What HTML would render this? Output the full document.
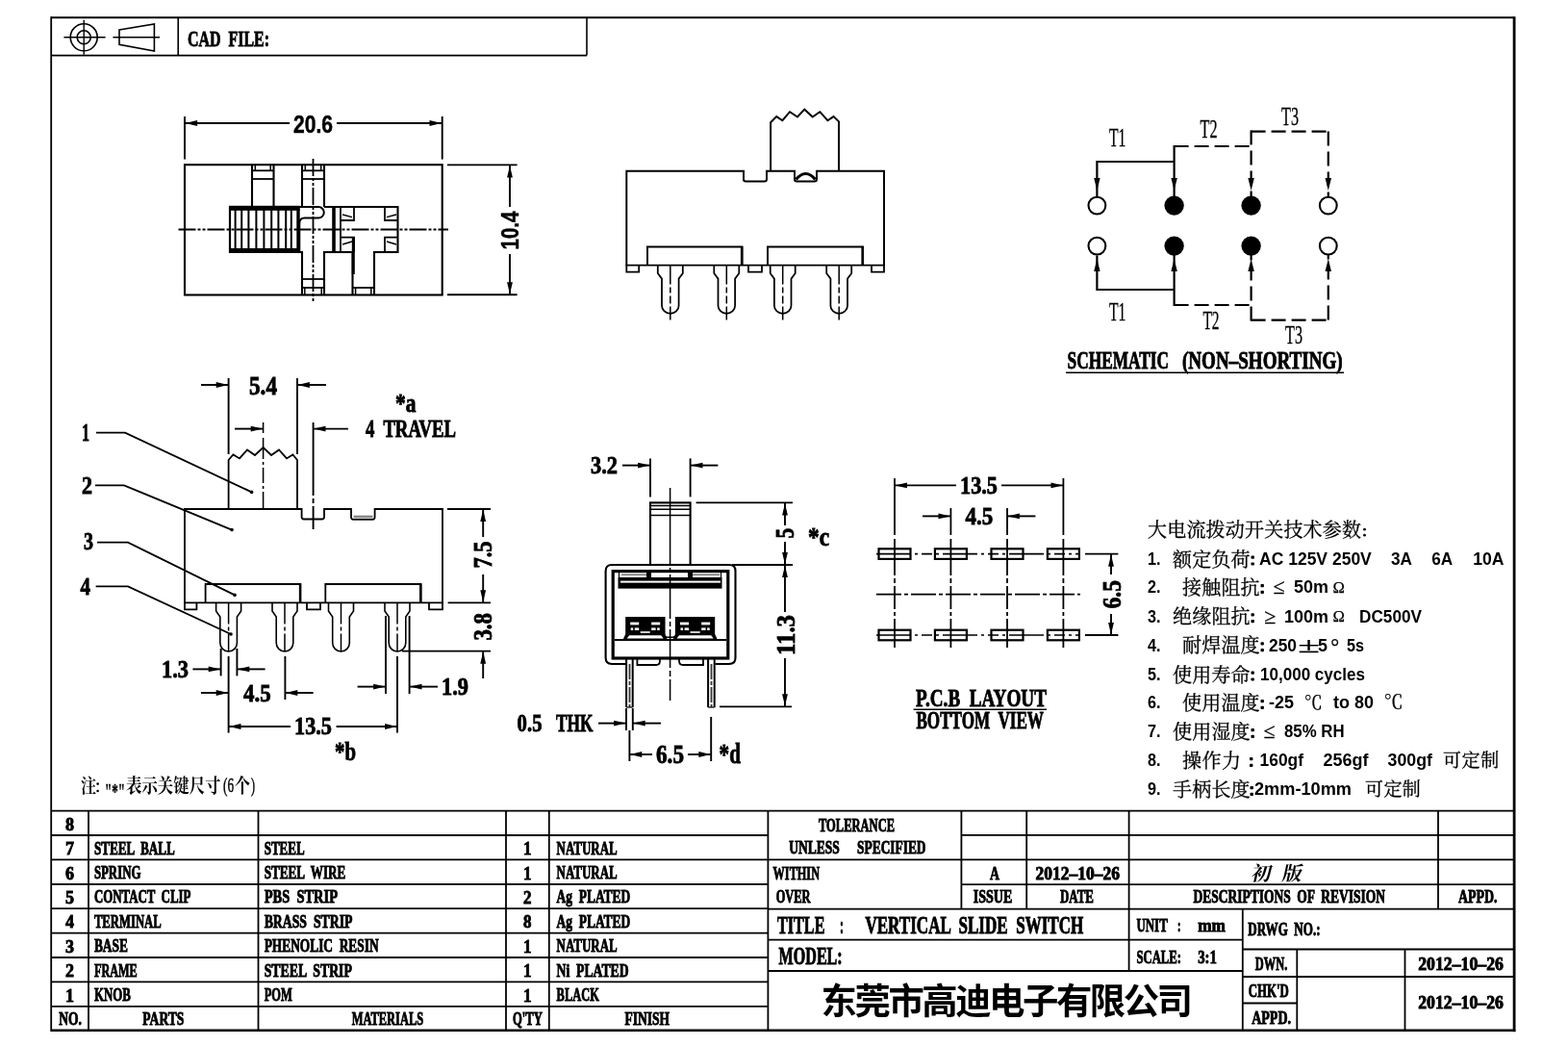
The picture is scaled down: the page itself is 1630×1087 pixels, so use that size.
<!DOCTYPE html>
<html><head><meta charset="utf-8"><title>Vertical Slide Switch Drawing</title>
<style>html,body{margin:0;padding:0;background:#fff;}body{width:1630px;height:1087px;overflow:hidden;font-family:"Liberation Serif",serif;}text{fill:#000;stroke:none;}use{fill:#000;stroke:none;}</style></head>
<body>
<svg width="1630" height="1087" viewBox="0 0 1630 1087" style="display:block;filter:blur(0.45px)">
<rect width="100%" height="100%" fill="#fff"/>
<g stroke="#000" fill="none" font-family="Liberation Serif, serif" font-weight="bold">
<g>
<line x1="53.2" y1="17.3" x2="53.2" y2="1071.9" stroke-width="1.8"/>
<line x1="53.2" y1="18.3" x2="1573.8" y2="18.3" stroke-width="2"/>
<line x1="1574.1" y1="17.3" x2="1574.1" y2="1072.2" stroke-width="2.8"/>
<line x1="53.2" y1="1070.7" x2="1575.3" y2="1070.7" stroke-width="2.4"/>
<line x1="53.2" y1="57.6" x2="610" y2="57.6" stroke-width="1.6"/>
<line x1="185.2" y1="18.3" x2="185.2" y2="57.6" stroke-width="1.6"/>
<line x1="610" y1="18.3" x2="610" y2="57.6" stroke-width="1.6"/>
<circle cx="87.2" cy="38.8" r="14" fill="none" stroke-width="1.6"/>
<circle cx="87.2" cy="38.8" r="7" fill="none" stroke-width="1.6"/>
<line x1="66.4" y1="38.8" x2="109.6" y2="38.8" stroke-width="1.4"/>
<line x1="87.2" y1="20.8" x2="87.2" y2="56.8" stroke-width="1.4"/>
<path d="M124 31 L160.4 25 L160.4 53 L124 46.4 Z" fill="none" stroke-width="1.6"/>
<line x1="117.4" y1="38.8" x2="166" y2="38.8" stroke-width="1.4"/>
<text x="195" y="47.6" font-size="23.82" textLength="85" lengthAdjust="spacingAndGlyphs" style="stroke:#000;stroke-width:0.85px" xml:space="preserve">CAD  FILE:</text>
<line x1="53.2" y1="842.6" x2="798.4" y2="842.6" stroke-width="1.8"/>
<line x1="53.2" y1="868" x2="798.4" y2="868" stroke-width="1.8"/>
<line x1="53.2" y1="893.4" x2="798.4" y2="893.4" stroke-width="1.8"/>
<line x1="53.2" y1="918.8" x2="798.4" y2="918.8" stroke-width="1.8"/>
<line x1="53.2" y1="944.2" x2="798.4" y2="944.2" stroke-width="1.8"/>
<line x1="53.2" y1="969.6" x2="798.4" y2="969.6" stroke-width="1.8"/>
<line x1="53.2" y1="995" x2="798.4" y2="995" stroke-width="1.8"/>
<line x1="53.2" y1="1020.4" x2="798.4" y2="1020.4" stroke-width="1.8"/>
<line x1="53.2" y1="1045.8" x2="798.4" y2="1045.8" stroke-width="1.8"/>
<line x1="92" y1="842.6" x2="92" y2="1070.7" stroke-width="1.8"/>
<line x1="268.5" y1="842.6" x2="268.5" y2="1070.7" stroke-width="1.8"/>
<line x1="526" y1="842.6" x2="526" y2="1070.7" stroke-width="1.8"/>
<line x1="570.8" y1="842.6" x2="570.8" y2="1070.7" stroke-width="1.8"/>
<line x1="798.4" y1="842.6" x2="798.4" y2="1070.7" stroke-width="1.8"/>
<line x1="798.4" y1="842.6" x2="1573.8" y2="842.6" stroke-width="1.8"/>
<line x1="999.4" y1="867.8" x2="1573.8" y2="867.8" stroke-width="1.8"/>
<line x1="798.4" y1="893.4" x2="1573.8" y2="893.4" stroke-width="1.8"/>
<line x1="999.4" y1="919.1" x2="1573.8" y2="919.1" stroke-width="1.8"/>
<line x1="798.4" y1="944.7" x2="1573.8" y2="944.7" stroke-width="1.8"/>
<line x1="798.4" y1="976.6" x2="1291.8" y2="976.6" stroke-width="1.8"/>
<line x1="798.4" y1="1009" x2="1291.8" y2="1009" stroke-width="1.8"/>
<line x1="1291.8" y1="986.5" x2="1573.8" y2="986.5" stroke-width="1.8"/>
<line x1="1291.8" y1="1015" x2="1573.8" y2="1015" stroke-width="1.8"/>
<line x1="1291.8" y1="1042.5" x2="1348.3" y2="1042.5" stroke-width="1.8"/>
<line x1="999.4" y1="842.6" x2="999.4" y2="944.7" stroke-width="1.8"/>
<line x1="1067.2" y1="842.6" x2="1067.2" y2="944.7" stroke-width="1.8"/>
<line x1="1173.6" y1="842.6" x2="1173.6" y2="1009" stroke-width="1.8"/>
<line x1="1495" y1="842.6" x2="1495" y2="944.7" stroke-width="1.8"/>
<line x1="1291.8" y1="944.7" x2="1291.8" y2="1070.7" stroke-width="1.8"/>
<line x1="1348.3" y1="986.5" x2="1348.3" y2="1070.7" stroke-width="1.8"/>
<line x1="1460.5" y1="986.5" x2="1460.5" y2="1070.7" stroke-width="1.8"/>
<text x="68" y="862.8" font-size="19.85" textLength="9" lengthAdjust="spacingAndGlyphs" style="stroke:#000;stroke-width:0.9px" xml:space="preserve">8</text>
<text x="68" y="888.2" font-size="19.85" textLength="9" lengthAdjust="spacingAndGlyphs" style="stroke:#000;stroke-width:0.9px" xml:space="preserve">7</text>
<text x="68" y="913.6" font-size="19.85" textLength="9" lengthAdjust="spacingAndGlyphs" style="stroke:#000;stroke-width:0.9px" xml:space="preserve">6</text>
<text x="68" y="939" font-size="19.85" textLength="9" lengthAdjust="spacingAndGlyphs" style="stroke:#000;stroke-width:0.9px" xml:space="preserve">5</text>
<text x="68" y="964.4" font-size="19.85" textLength="9" lengthAdjust="spacingAndGlyphs" style="stroke:#000;stroke-width:0.9px" xml:space="preserve">4</text>
<text x="68" y="989.8" font-size="19.85" textLength="9" lengthAdjust="spacingAndGlyphs" style="stroke:#000;stroke-width:0.9px" xml:space="preserve">3</text>
<text x="68" y="1015.2" font-size="19.85" textLength="9" lengthAdjust="spacingAndGlyphs" style="stroke:#000;stroke-width:0.9px" xml:space="preserve">2</text>
<text x="68" y="1040.6" font-size="19.85" textLength="9" lengthAdjust="spacingAndGlyphs" style="stroke:#000;stroke-width:0.9px" xml:space="preserve">1</text>
<text x="97.9" y="887.6" font-size="18.78" textLength="83.9" lengthAdjust="spacingAndGlyphs" style="stroke:#000;stroke-width:0.9px" xml:space="preserve">STEEL  BALL</text>
<text x="274.7" y="887.6" font-size="18.78" textLength="42" lengthAdjust="spacingAndGlyphs" style="stroke:#000;stroke-width:0.9px" xml:space="preserve">STEEL</text>
<text x="544" y="888.2" font-size="19.85" textLength="8.5" lengthAdjust="spacingAndGlyphs" style="stroke:#000;stroke-width:0.9px" xml:space="preserve">1</text>
<text x="578.6" y="887.6" font-size="18.78" textLength="63.1" lengthAdjust="spacingAndGlyphs" style="stroke:#000;stroke-width:0.9px" xml:space="preserve">NATURAL</text>
<text x="97.9" y="913" font-size="18.78" textLength="48.5" lengthAdjust="spacingAndGlyphs" style="stroke:#000;stroke-width:0.9px" xml:space="preserve">SPRING</text>
<text x="274.7" y="913" font-size="18.78" textLength="84.6" lengthAdjust="spacingAndGlyphs" style="stroke:#000;stroke-width:0.9px" xml:space="preserve">STEEL  WIRE</text>
<text x="544" y="913.6" font-size="19.85" textLength="8.5" lengthAdjust="spacingAndGlyphs" style="stroke:#000;stroke-width:0.9px" xml:space="preserve">1</text>
<text x="578.6" y="913" font-size="18.78" textLength="63.1" lengthAdjust="spacingAndGlyphs" style="stroke:#000;stroke-width:0.9px" xml:space="preserve">NATURAL</text>
<text x="97.9" y="938.4" font-size="18.78" textLength="100.5" lengthAdjust="spacingAndGlyphs" style="stroke:#000;stroke-width:0.9px" xml:space="preserve">CONTACT  CLIP</text>
<text x="274.7" y="938.4" font-size="18.78" textLength="76.3" lengthAdjust="spacingAndGlyphs" style="stroke:#000;stroke-width:0.9px" xml:space="preserve">PBS  STRIP</text>
<text x="544" y="939" font-size="19.85" textLength="8.5" lengthAdjust="spacingAndGlyphs" style="stroke:#000;stroke-width:0.9px" xml:space="preserve">2</text>
<text x="578.6" y="938.4" font-size="18.78" textLength="76.6" lengthAdjust="spacingAndGlyphs" style="stroke:#000;stroke-width:0.9px" xml:space="preserve">Ag  PLATED</text>
<text x="97.9" y="963.8" font-size="18.78" textLength="69.8" lengthAdjust="spacingAndGlyphs" style="stroke:#000;stroke-width:0.9px" xml:space="preserve">TERMINAL</text>
<text x="274.7" y="963.8" font-size="18.78" textLength="91.7" lengthAdjust="spacingAndGlyphs" style="stroke:#000;stroke-width:0.9px" xml:space="preserve">BRASS  STRIP</text>
<text x="544" y="964.4" font-size="19.85" textLength="8.5" lengthAdjust="spacingAndGlyphs" style="stroke:#000;stroke-width:0.9px" xml:space="preserve">8</text>
<text x="578.6" y="963.8" font-size="18.78" textLength="76.6" lengthAdjust="spacingAndGlyphs" style="stroke:#000;stroke-width:0.9px" xml:space="preserve">Ag  PLATED</text>
<text x="97.9" y="989.2" font-size="18.78" textLength="35" lengthAdjust="spacingAndGlyphs" style="stroke:#000;stroke-width:0.9px" xml:space="preserve">BASE</text>
<text x="274.7" y="989.2" font-size="18.78" textLength="118.9" lengthAdjust="spacingAndGlyphs" style="stroke:#000;stroke-width:0.9px" xml:space="preserve">PHENOLIC  RESIN</text>
<text x="544" y="989.8" font-size="19.85" textLength="8.5" lengthAdjust="spacingAndGlyphs" style="stroke:#000;stroke-width:0.9px" xml:space="preserve">1</text>
<text x="578.6" y="989.2" font-size="18.78" textLength="63.1" lengthAdjust="spacingAndGlyphs" style="stroke:#000;stroke-width:0.9px" xml:space="preserve">NATURAL</text>
<text x="97.9" y="1014.6" font-size="18.78" textLength="44.9" lengthAdjust="spacingAndGlyphs" style="stroke:#000;stroke-width:0.9px" xml:space="preserve">FRAME</text>
<text x="274.7" y="1014.6" font-size="18.78" textLength="91.2" lengthAdjust="spacingAndGlyphs" style="stroke:#000;stroke-width:0.9px" xml:space="preserve">STEEL  STRIP</text>
<text x="544" y="1015.2" font-size="19.85" textLength="8.5" lengthAdjust="spacingAndGlyphs" style="stroke:#000;stroke-width:0.9px" xml:space="preserve">1</text>
<text x="578.6" y="1014.6" font-size="18.78" textLength="75" lengthAdjust="spacingAndGlyphs" style="stroke:#000;stroke-width:0.9px" xml:space="preserve">Ni  PLATED</text>
<text x="97.9" y="1040" font-size="18.78" textLength="37.8" lengthAdjust="spacingAndGlyphs" style="stroke:#000;stroke-width:0.9px" xml:space="preserve">KNOB</text>
<text x="274.7" y="1040" font-size="18.78" textLength="29" lengthAdjust="spacingAndGlyphs" style="stroke:#000;stroke-width:0.9px" xml:space="preserve">POM</text>
<text x="544" y="1040.6" font-size="19.85" textLength="8.5" lengthAdjust="spacingAndGlyphs" style="stroke:#000;stroke-width:0.9px" xml:space="preserve">1</text>
<text x="578.6" y="1040" font-size="18.78" textLength="44.2" lengthAdjust="spacingAndGlyphs" style="stroke:#000;stroke-width:0.9px" xml:space="preserve">BLACK</text>
<text x="61.3" y="1064.8" font-size="18.78" textLength="23.7" lengthAdjust="spacingAndGlyphs" style="stroke:#000;stroke-width:0.9px" xml:space="preserve">NO.</text>
<text x="148.3" y="1064.8" font-size="18.78" textLength="43" lengthAdjust="spacingAndGlyphs" style="stroke:#000;stroke-width:0.9px" xml:space="preserve">PARTS</text>
<text x="365.7" y="1064.8" font-size="18.78" textLength="74.4" lengthAdjust="spacingAndGlyphs" style="stroke:#000;stroke-width:0.9px" xml:space="preserve">MATERIALS</text>
<text x="533" y="1064.8" font-size="18.78" textLength="30.8" lengthAdjust="spacingAndGlyphs" style="stroke:#000;stroke-width:0.9px" xml:space="preserve">Q'TY</text>
<text x="649.5" y="1064.8" font-size="18.78" textLength="46.6" lengthAdjust="spacingAndGlyphs" style="stroke:#000;stroke-width:0.9px" xml:space="preserve">FINISH</text>
<text x="851" y="863.6" font-size="18.78" textLength="79" lengthAdjust="spacingAndGlyphs" style="stroke:#000;stroke-width:0.9px" xml:space="preserve">TOLERANCE</text>
<text x="820.2" y="887.4" font-size="18.78" textLength="52.5" lengthAdjust="spacingAndGlyphs" style="stroke:#000;stroke-width:0.9px" xml:space="preserve">UNLESS</text>
<text x="891.1" y="887.4" font-size="18.78" textLength="71.4" lengthAdjust="spacingAndGlyphs" style="stroke:#000;stroke-width:0.9px" xml:space="preserve">SPECIFIED</text>
<text x="803.6" y="914" font-size="18.78" textLength="48.4" lengthAdjust="spacingAndGlyphs" style="stroke:#000;stroke-width:0.9px" xml:space="preserve">WITHIN</text>
<text x="806.7" y="937.6" font-size="18.78" textLength="35.9" lengthAdjust="spacingAndGlyphs" style="stroke:#000;stroke-width:0.9px" xml:space="preserve">OVER</text>
<text x="1029" y="914" font-size="18.78" textLength="10" lengthAdjust="spacingAndGlyphs" style="stroke:#000;stroke-width:0.9px" xml:space="preserve">A</text>
<text x="1011.7" y="937.6" font-size="18.78" textLength="40.6" lengthAdjust="spacingAndGlyphs" style="stroke:#000;stroke-width:0.9px" xml:space="preserve">ISSUE</text>
<text x="1076.6" y="914" font-size="18.78" textLength="87.5" lengthAdjust="spacingAndGlyphs" style="stroke:#000;stroke-width:0.9px" xml:space="preserve">2012–10–26</text>
<text x="1102" y="937.6" font-size="18.78" textLength="35" lengthAdjust="spacingAndGlyphs" style="stroke:#000;stroke-width:0.9px" xml:space="preserve">DATE</text>
<text x="1240.5" y="937.6" font-size="18.78" textLength="199.5" lengthAdjust="spacingAndGlyphs" style="stroke:#000;stroke-width:0.9px" xml:space="preserve">DESCRIPTIONS  OF  REVISION</text>
<text x="1516" y="937.6" font-size="18.78" textLength="40.5" lengthAdjust="spacingAndGlyphs" style="stroke:#000;stroke-width:0.9px" xml:space="preserve">APPD.</text>
<text x="807.9" y="969.5" font-size="25.19" textLength="49.6" lengthAdjust="spacingAndGlyphs" style="stroke:#000;stroke-width:0.9px" xml:space="preserve">TITLE</text>
<text x="873" y="969.5" font-size="25.19" textLength="4" lengthAdjust="spacingAndGlyphs" style="stroke:#000;stroke-width:0.9px" xml:space="preserve">:</text>
<text x="899.4" y="969.5" font-size="25.19" textLength="226.9" lengthAdjust="spacingAndGlyphs" style="stroke:#000;stroke-width:0.9px" xml:space="preserve">VERTICAL  SLIDE  SWITCH</text>
<text x="809.6" y="1001.9" font-size="25.19" textLength="66.1" lengthAdjust="spacingAndGlyphs" style="stroke:#000;stroke-width:0.9px" xml:space="preserve">MODEL:</text>
<text x="1181.4" y="968.3" font-size="19.85" textLength="32.4" lengthAdjust="spacingAndGlyphs" style="stroke:#000;stroke-width:0.9px" xml:space="preserve">UNIT</text>
<text x="1224" y="968.3" font-size="19.85" textLength="3.5" lengthAdjust="spacingAndGlyphs" style="stroke:#000;stroke-width:0.9px" xml:space="preserve">:</text>
<text x="1245.2" y="968.3" font-size="19.85" textLength="28.8" lengthAdjust="spacingAndGlyphs" style="stroke:#000;stroke-width:0.9px" xml:space="preserve">mm</text>
<text x="1181.4" y="1001.4" font-size="19.85" textLength="46.6" lengthAdjust="spacingAndGlyphs" style="stroke:#000;stroke-width:0.9px" xml:space="preserve">SCALE:</text>
<text x="1245.2" y="1001.4" font-size="19.85" textLength="19.8" lengthAdjust="spacingAndGlyphs" style="stroke:#000;stroke-width:0.9px" xml:space="preserve">3:1</text>
<text x="1297.2" y="971.8" font-size="18.78" textLength="75.4" lengthAdjust="spacingAndGlyphs" style="stroke:#000;stroke-width:0.9px" xml:space="preserve">DRWG  NO.:</text>
<text x="1304.8" y="1007.8" font-size="18.78" textLength="33.5" lengthAdjust="spacingAndGlyphs" style="stroke:#000;stroke-width:0.9px" xml:space="preserve">DWN.</text>
<text x="1297.7" y="1035.7" font-size="18.78" textLength="42.1" lengthAdjust="spacingAndGlyphs" style="stroke:#000;stroke-width:0.9px" xml:space="preserve">CHK'D</text>
<text x="1301.2" y="1064" font-size="18.78" textLength="40.8" lengthAdjust="spacingAndGlyphs" style="stroke:#000;stroke-width:0.9px" xml:space="preserve">APPD.</text>
<text x="1474.2" y="1007.8" font-size="18.78" textLength="88.7" lengthAdjust="spacingAndGlyphs" style="stroke:#000;stroke-width:0.9px" xml:space="preserve">2012–10–26</text>
<text x="1474.2" y="1048" font-size="18.78" textLength="88.7" lengthAdjust="spacingAndGlyphs" style="stroke:#000;stroke-width:0.9px" xml:space="preserve">2012–10–26</text>
<text x="853.6" y="1053.5" font-size="37.4" font-weight="bold" font-family="Liberation Sans, Noto Sans CJK SC, sans-serif" textLength="386.4" lengthAdjust="spacing">东莞市高迪电子有限公司</text>
<text x="0" y="0" transform="translate(1300 915.29) skewX(-12)" font-size="20.5" font-weight="bold" font-family="Liberation Serif, Noto Serif CJK SC, serif">初</text>
<text x="0" y="0" transform="translate(1332 915.29) skewX(-12)" font-size="20.5" font-weight="bold" font-family="Liberation Serif, Noto Serif CJK SC, serif">版</text>
<rect x="192" y="171.2" width="267.7" height="135.3" fill="none" stroke-width="2.1"/>
<line x1="262" y1="171.2" x2="262" y2="215" stroke-width="2.1"/>
<line x1="284.5" y1="171.2" x2="284.5" y2="215" stroke-width="2.1"/>
<line x1="265.3" y1="171.2" x2="265.3" y2="177.3" stroke-width="1.5"/>
<line x1="281.2" y1="171.2" x2="281.2" y2="177.3" stroke-width="1.5"/>
<line x1="262" y1="177.3" x2="284.5" y2="177.3" stroke-width="1.8"/>
<line x1="262" y1="186" x2="284.5" y2="186" stroke-width="1.8"/>
<line x1="314" y1="171.2" x2="314" y2="215" stroke-width="2.1"/>
<line x1="337" y1="171.2" x2="337" y2="215" stroke-width="2.1"/>
<line x1="317.3" y1="171.2" x2="317.3" y2="177.3" stroke-width="1.5"/>
<line x1="333.7" y1="171.2" x2="333.7" y2="177.3" stroke-width="1.5"/>
<line x1="314" y1="177.3" x2="337" y2="177.3" stroke-width="1.8"/>
<line x1="314" y1="186" x2="337" y2="186" stroke-width="1.8"/>
<rect x="238" y="213.8" width="73.5" height="5" fill="#000" stroke="none"/>
<rect x="238" y="258" width="73.5" height="5" fill="#000" stroke="none"/>
<line x1="239" y1="214" x2="239" y2="263" stroke-width="2.2"/>
<line x1="310" y1="214" x2="310" y2="263" stroke-width="3.4"/>
<line x1="244.6" y1="217" x2="244.6" y2="260" stroke-width="2"/>
<line x1="251.2" y1="217" x2="251.2" y2="260" stroke-width="2"/>
<line x1="258.4" y1="217" x2="258.4" y2="260" stroke-width="2"/>
<line x1="266.4" y1="217" x2="266.4" y2="260" stroke-width="2"/>
<line x1="274.4" y1="217" x2="274.4" y2="260" stroke-width="2"/>
<line x1="282.2" y1="217" x2="282.2" y2="260" stroke-width="2"/>
<line x1="289.4" y1="217" x2="289.4" y2="260" stroke-width="2"/>
<line x1="297.2" y1="217" x2="297.2" y2="260" stroke-width="2"/>
<line x1="302.8" y1="217" x2="302.8" y2="260" stroke-width="2"/>
<path d="M310 215 L331 215 A5.8 5.8 0 0 1 331 226.6 L316.5 226.6 Q311.3 226.6 311.3 232.5 L311.3 262" fill="none" stroke-width="2"/>
<line x1="337" y1="215" x2="413.5" y2="215" stroke-width="2.1"/>
<line x1="413.5" y1="214" x2="413.5" y2="263" stroke-width="2.1"/>
<line x1="347" y1="215" x2="347" y2="262" stroke-width="3.6"/>
<line x1="354" y1="215" x2="354" y2="262" stroke-width="1.8"/>
<path d="M354 229 L368 229" fill="none" stroke-width="1.8"/>
<path d="M400 229 L400 229" fill="none" stroke-width="1.8"/>
<path d="M354 229 L368 229 L368 215" fill="none" stroke-width="1.8"/>
<path d="M413.5 229 L400 229 L400 215" fill="none" stroke-width="1.8"/>
<path d="M354 246.7 L368 246.7 L368 262" fill="none" stroke-width="1.8"/>
<path d="M413.5 246.7 L400 246.7 L400 262" fill="none" stroke-width="1.8"/>
<line x1="356" y1="223" x2="366" y2="225.6" stroke-width="1.4"/>
<line x1="402" y1="225.6" x2="412" y2="223" stroke-width="1.4"/>
<line x1="356" y1="254" x2="366" y2="251" stroke-width="1.4"/>
<line x1="402" y1="251" x2="412" y2="254" stroke-width="1.4"/>
<line x1="310" y1="262" x2="314" y2="262" stroke-width="2.1"/>
<line x1="337" y1="262" x2="366" y2="262" stroke-width="2.1"/>
<line x1="389" y1="262" x2="413.5" y2="262" stroke-width="2.1"/>
<line x1="314" y1="261" x2="314" y2="306.5" stroke-width="2.1"/>
<line x1="337" y1="261" x2="337" y2="306.5" stroke-width="2.1"/>
<line x1="314" y1="290" x2="337" y2="290" stroke-width="1.8"/>
<line x1="314" y1="299" x2="337" y2="299" stroke-width="1.8"/>
<line x1="316.8" y1="299" x2="316.8" y2="306.5" stroke-width="1.5"/>
<line x1="334.2" y1="299" x2="334.2" y2="306.5" stroke-width="1.5"/>
<line x1="366.5" y1="262" x2="366.5" y2="306.5" stroke-width="2.1"/>
<line x1="389" y1="261" x2="389" y2="306.5" stroke-width="2.1"/>
<line x1="367.3" y1="247" x2="367.3" y2="285" stroke-width="3"/>
<line x1="366.5" y1="299" x2="389" y2="299" stroke-width="1.8"/>
<line x1="369.6" y1="299" x2="369.6" y2="306.5" stroke-width="1.5"/>
<line x1="385.8" y1="299" x2="385.8" y2="306.5" stroke-width="1.5"/>
<line x1="185.5" y1="238.5" x2="466" y2="238.5" stroke-width="1.8" stroke-dasharray="18 2 3 2 3 2"/>
<line x1="325.5" y1="165" x2="325.5" y2="315" stroke-width="1.8" stroke-dasharray="18 2 3 2 3 2"/>
<line x1="192" y1="121" x2="192" y2="165.6" stroke-width="1.9"/>
<line x1="459.7" y1="121" x2="459.7" y2="165.6" stroke-width="1.9"/>
<line x1="192" y1="128" x2="301" y2="128" stroke-width="1.9"/>
<line x1="350" y1="128" x2="459.7" y2="128" stroke-width="1.9"/>
<path d="M192.6 128 L205.1 125.1 L205.1 130.9 Z" fill="#000" stroke="none"/>
<path d="M459 128 L446.5 125.1 L446.5 130.9 Z" fill="#000" stroke="none"/>
<text x="305" y="137.6" font-size="25.58" font-family="Liberation Sans, sans-serif" textLength="41" lengthAdjust="spacingAndGlyphs" style="stroke:#000;stroke-width:0.5px" xml:space="preserve">20.6</text>
<line x1="465" y1="171.4" x2="537.6" y2="171.4" stroke-width="1.9"/>
<line x1="465" y1="306.3" x2="537.6" y2="306.3" stroke-width="1.9"/>
<line x1="530" y1="171.4" x2="530" y2="215" stroke-width="1.9"/>
<line x1="530" y1="264" x2="530" y2="306.3" stroke-width="1.9"/>
<path d="M530 172 L527.1 184.5 L532.9 184.5 Z" fill="#000" stroke="none"/>
<path d="M530 305.8 L527.1 293.3 L532.9 293.3 Z" fill="#000" stroke="none"/>
<text x="539" y="259.5" font-size="26.16" font-family="Liberation Sans, sans-serif" textLength="40" lengthAdjust="spacingAndGlyphs" transform="rotate(-90 539 259.5)" style="stroke:#000;stroke-width:0.5px" xml:space="preserve">10.4</text>
<path d="M651.3 275.6 L651.3 177.8 L773 177.8 L773 186.2 Q773 188.4 775.2 188.4 L794.8 188.4 Q797 188.4 797 186.2 L797 177.8 L826 177.8 L826 186.2 Q826 188.4 828.2 188.4 L846.8 188.4 Q849 188.4 849 186.2 L849 177.8 L919 177.8 L919 275.6 Z" fill="none" stroke-width="1.95"/>
<path d="M827.5 186.5 Q837.5 174.5 847.5 186.5" fill="none" stroke-width="3.2"/>
<path d="M801.1 177.8 L801.1 127.2 L807.2 121.1 L813.4 125.2 L821 116.2 L829 121.5 L836.3 113.7 L844.7 121.5 L852.3 116.2 L860.4 125.2 L866.5 121.1 L872 126.4 L872 177.8" fill="none" stroke-width="1.95"/>
<path d="M651.3 275.6 L651.3 282.6 L664.2 282.6 L664.2 275.6" fill="none" stroke-width="1.8"/>
<path d="M778 275.6 L778 282.6 L792 282.6 L792 275.6" fill="none" stroke-width="1.8"/>
<path d="M906 275.6 L906 282.6 L919 282.6 L919 275.6" fill="none" stroke-width="1.8"/>
<path d="M673 275.6 L673 256.4 L771.5 256.4 L771.5 275.6" fill="none" stroke-width="1.95"/>
<line x1="771.1" y1="256.4" x2="771.1" y2="275.6" stroke-width="2.45"/>
<path d="M798 275.6 L798 256.4 L897 256.4 L897 275.6" fill="none" stroke-width="1.95"/>
<line x1="896.6" y1="256.4" x2="896.6" y2="275.6" stroke-width="2.45"/>
<path d="M683.8 275.6 L683.8 284 L688 289.6 L688 317.8 A8.8 8 0 0 0 705.6 317.8 L705.6 289.6 L709.8 284 L709.8 275.6" fill="none" stroke-width="1.75"/>
<line x1="696.8" y1="275.6" x2="696.8" y2="332.6" stroke-width="1.5" stroke-dasharray="20 3 6 3 8 3 40"/>
<path d="M742.3 275.6 L742.3 284 L746.5 289.6 L746.5 317.8 A8.8 8 0 0 0 764.1 317.8 L764.1 289.6 L768.3 284 L768.3 275.6" fill="none" stroke-width="1.75"/>
<line x1="755.3" y1="275.6" x2="755.3" y2="332.6" stroke-width="1.5" stroke-dasharray="20 3 6 3 8 3 40"/>
<path d="M800.7 275.6 L800.7 284 L804.9 289.6 L804.9 317.8 A8.8 8 0 0 0 822.5 317.8 L822.5 289.6 L826.7 284 L826.7 275.6" fill="none" stroke-width="1.75"/>
<line x1="813.7" y1="275.6" x2="813.7" y2="332.6" stroke-width="1.5" stroke-dasharray="20 3 6 3 8 3 40"/>
<path d="M859.2 275.6 L859.2 284 L863.4 289.6 L863.4 317.8 A8.8 8 0 0 0 881 317.8 L881 289.6 L885.2 284 L885.2 275.6" fill="none" stroke-width="1.75"/>
<line x1="872.2" y1="275.6" x2="872.2" y2="332.6" stroke-width="1.5" stroke-dasharray="20 3 6 3 8 3 40"/>
<circle cx="1140.4" cy="213.6" r="8.9" fill="none" stroke-width="2.1"/>
<circle cx="1140.4" cy="255.6" r="8.9" fill="none" stroke-width="2.1"/>
<circle cx="1220.6" cy="213.6" r="10.2" fill="#000" stroke="none"/>
<circle cx="1220.6" cy="255.6" r="10.2" fill="#000" stroke="none"/>
<circle cx="1300.6" cy="213.6" r="10.2" fill="#000" stroke="none"/>
<circle cx="1300.6" cy="255.6" r="10.2" fill="#000" stroke="none"/>
<circle cx="1380.8" cy="213.6" r="8.9" fill="none" stroke-width="2.1"/>
<circle cx="1380.8" cy="255.6" r="8.9" fill="none" stroke-width="2.1"/>
<path d="M1140.4 204 L1140.4 168 L1220.6 168" fill="none" stroke-width="2.2"/>
<line x1="1220.6" y1="151" x2="1220.6" y2="204" stroke-width="2.2"/>
<path d="M1140.4 265.5 L1140.4 301 L1220.6 301" fill="none" stroke-width="2.2"/>
<line x1="1220.6" y1="265" x2="1220.6" y2="318" stroke-width="2.2"/>
<line x1="1220.6" y1="152" x2="1301.6" y2="152" stroke-width="2.2" stroke-dasharray="15 6"/>
<line x1="1300.6" y1="135.6" x2="1300.6" y2="204" stroke-width="2.2" stroke-dasharray="15 6"/>
<line x1="1300.6" y1="136.6" x2="1381.8" y2="136.6" stroke-width="2.2" stroke-dasharray="15 6"/>
<line x1="1380.8" y1="136.6" x2="1380.8" y2="204" stroke-width="2.2" stroke-dasharray="15 6"/>
<line x1="1220.6" y1="317" x2="1301.6" y2="317" stroke-width="2.2" stroke-dasharray="15 6"/>
<line x1="1300.6" y1="333.6" x2="1300.6" y2="265" stroke-width="2.2" stroke-dasharray="15 6"/>
<line x1="1300.6" y1="332.6" x2="1381.8" y2="332.6" stroke-width="2.2" stroke-dasharray="15 6"/>
<line x1="1380.8" y1="332.6" x2="1380.8" y2="265" stroke-width="2.2" stroke-dasharray="15 6"/>
<path d="M1140.4 198 L1137.2 185 L1143.6 185 Z" fill="#000" stroke="none"/>
<path d="M1140.4 269 L1137.2 282 L1143.6 282 Z" fill="#000" stroke="none"/>
<path d="M1220.6 198 L1217.4 185 L1223.8 185 Z" fill="#000" stroke="none"/>
<path d="M1220.6 269 L1217.4 282 L1223.8 282 Z" fill="#000" stroke="none"/>
<path d="M1300.6 198 L1297.4 185 L1303.8 185 Z" fill="#000" stroke="none"/>
<path d="M1300.6 269 L1297.4 282 L1303.8 282 Z" fill="#000" stroke="none"/>
<path d="M1380.8 198 L1377.6 185 L1384 185 Z" fill="#000" stroke="none"/>
<path d="M1380.8 269 L1377.6 282 L1384 282 Z" fill="#000" stroke="none"/>
<text x="1153" y="151.6" font-size="26.87" font-weight="normal" textLength="17.4" lengthAdjust="spacingAndGlyphs" style="stroke:#000;stroke-width:0.3px" xml:space="preserve">T1</text>
<text x="1247.6" y="142.6" font-size="26.87" font-weight="normal" textLength="18" lengthAdjust="spacingAndGlyphs" style="stroke:#000;stroke-width:0.3px" xml:space="preserve">T2</text>
<text x="1332" y="130" font-size="26.87" font-weight="normal" textLength="18" lengthAdjust="spacingAndGlyphs" style="stroke:#000;stroke-width:0.3px" xml:space="preserve">T3</text>
<text x="1153" y="332.6" font-size="26.87" font-weight="normal" textLength="17.4" lengthAdjust="spacingAndGlyphs" style="stroke:#000;stroke-width:0.3px" xml:space="preserve">T1</text>
<text x="1250.4" y="342.4" font-size="26.87" font-weight="normal" textLength="17.2" lengthAdjust="spacingAndGlyphs" style="stroke:#000;stroke-width:0.3px" xml:space="preserve">T2</text>
<text x="1336" y="357" font-size="26.87" font-weight="normal" textLength="18" lengthAdjust="spacingAndGlyphs" style="stroke:#000;stroke-width:0.3px" xml:space="preserve">T3</text>
<text x="1109.6" y="383" font-size="24.43" textLength="105.4" lengthAdjust="spacingAndGlyphs" style="stroke:#000;stroke-width:0.85px" xml:space="preserve">SCHEMATIC</text>
<text x="1229" y="383" font-size="24.43" textLength="166.6" lengthAdjust="spacingAndGlyphs" style="stroke:#000;stroke-width:0.85px" xml:space="preserve">(NON–SHORTING)</text>
<line x1="1108" y1="387.2" x2="1397" y2="387.2" stroke-width="1.6"/>
<path d="M192 626.4 L192 529 L313.6 529 L313.6 537.3 Q313.6 539.5 315.8 539.5 L334.8 539.5 Q337 539.5 337 537.3 L337 529 L365 529 L365 537.6 Q365 539.8 367.2 539.8 L387.4 539.8 Q389.6 539.8 389.6 537.6 L389.6 529 L460 529 L460 626.4 Z" fill="none" stroke-width="1.8"/>
<rect x="367.5" y="535.6" width="20" height="2.8" fill="#888" stroke="none"/>
<path d="M237.6 529 L237.6 478 L242.4 472.4 L249 476.4 L257 467.4 L265 473 L273.6 465 L282 473 L290 467.4 L298 476.4 L304.4 472.4 L309 478 L309 529" fill="none" stroke-width="1.8"/>
<path d="M192 626.4 L192 633.4 L204.4 633.4 L204.4 626.4" fill="none" stroke-width="1.8"/>
<path d="M319 626.4 L319 633.4 L333 633.4 L333 626.4" fill="none" stroke-width="1.8"/>
<path d="M446 626.4 L446 633.4 L460 633.4 L460 626.4" fill="none" stroke-width="1.8"/>
<path d="M213.6 626.4 L213.6 607 L312.4 607 L312.4 626.4" fill="none" stroke-width="1.8"/>
<line x1="312" y1="607" x2="312" y2="626.4" stroke-width="2.3"/>
<path d="M338.3 626.4 L338.3 607 L437.6 607 L437.6 626.4" fill="none" stroke-width="1.8"/>
<line x1="437.2" y1="607" x2="437.2" y2="626.4" stroke-width="2.3"/>
<path d="M224.6 626.4 L224.6 635 L228.8 641 L228.8 668 A8.8 9 0 0 0 246.4 668 L246.4 641 L250.6 635 L250.6 626.4" fill="none" stroke-width="1.6"/>
<line x1="237.6" y1="626.4" x2="237.6" y2="677" stroke-width="1.5" stroke-dasharray="22 3 4 3 40"/>
<path d="M283 626.4 L283 635 L287.2 641 L287.2 668 A8.8 9 0 0 0 304.8 668 L304.8 641 L309 635 L309 626.4" fill="none" stroke-width="1.6"/>
<line x1="296" y1="626.4" x2="296" y2="677" stroke-width="1.5" stroke-dasharray="22 3 4 3 40"/>
<path d="M341.5 626.4 L341.5 635 L345.7 641 L345.7 668 A8.8 9 0 0 0 363.3 668 L363.3 641 L367.5 635 L367.5 626.4" fill="none" stroke-width="1.6"/>
<line x1="354.5" y1="626.4" x2="354.5" y2="677" stroke-width="1.5" stroke-dasharray="22 3 4 3 40"/>
<path d="M400 626.4 L400 635 L404.2 641 L404.2 668 A8.8 9 0 0 0 421.8 668 L421.8 641 L426 635 L426 626.4" fill="none" stroke-width="1.6"/>
<line x1="413" y1="626.4" x2="413" y2="677" stroke-width="1.5" stroke-dasharray="22 3 4 3 40"/>
<line x1="273.6" y1="439" x2="273.6" y2="529" stroke-width="1.5" stroke-dasharray="11 5 22 3 3 3 16 3 3 3 40"/>
<line x1="237.6" y1="393" x2="237.6" y2="472" stroke-width="1.9"/>
<line x1="309" y1="393" x2="309" y2="472" stroke-width="1.9"/>
<line x1="209" y1="400" x2="237.6" y2="400" stroke-width="1.9"/>
<line x1="309" y1="400" x2="339" y2="400" stroke-width="1.9"/>
<path d="M237.2 400 L224.7 397.1 L224.7 402.9 Z" fill="#000" stroke="none"/>
<path d="M309.4 400 L321.9 397.1 L321.9 402.9 Z" fill="#000" stroke="none"/>
<text x="259" y="409.6" font-size="26.87" textLength="29" lengthAdjust="spacingAndGlyphs" style="stroke:#000;stroke-width:0.85px" xml:space="preserve">5.4</text>
<line x1="244" y1="445.6" x2="273.6" y2="445.6" stroke-width="1.9"/>
<path d="M273.2 445.6 L260.7 442.7 L260.7 448.5 Z" fill="#000" stroke="none"/>
<line x1="325.6" y1="439" x2="325.6" y2="550" stroke-width="1.9" stroke-dasharray="76 3 5 3 40"/>
<line x1="325.6" y1="445.6" x2="362" y2="445.6" stroke-width="1.9"/>
<path d="M326 445.6 L338.5 442.7 L338.5 448.5 Z" fill="#000" stroke="none"/>
<text x="380" y="454.4" font-size="25.04" textLength="94" lengthAdjust="spacingAndGlyphs" style="stroke:#000;stroke-width:0.85px" xml:space="preserve">4  TRAVEL</text>
<text x="411" y="428.4" font-size="26.87" textLength="21.4" lengthAdjust="spacingAndGlyphs" style="stroke:#000;stroke-width:0.85px" xml:space="preserve">*a</text>
<path d="M100 449.6 L130 449.6 L261.6 511.4" fill="none" stroke-width="1.9"/>
<circle cx="261.6" cy="511.4" r="1.8" fill="#000" stroke="none"/>
<path d="M99 504.4 L129 504.4 L241 550.6" fill="none" stroke-width="1.9"/>
<circle cx="241" cy="550.6" r="1.8" fill="#000" stroke="none"/>
<path d="M101 563.6 L133 563.6 L244 618.4" fill="none" stroke-width="1.9"/>
<circle cx="244" cy="618.4" r="1.8" fill="#000" stroke="none"/>
<path d="M99.6 609.4 L133 609.4 L240 659" fill="none" stroke-width="1.9"/>
<circle cx="240" cy="659" r="1.8" fill="#000" stroke="none"/>
<text x="85" y="458" font-size="25.95" textLength="8" lengthAdjust="spacingAndGlyphs" style="stroke:#000;stroke-width:0.85px" xml:space="preserve">1</text>
<text x="85" y="513" font-size="25.34" textLength="11" lengthAdjust="spacingAndGlyphs" style="stroke:#000;stroke-width:0.85px" xml:space="preserve">2</text>
<text x="87" y="571" font-size="25.34" textLength="10" lengthAdjust="spacingAndGlyphs" style="stroke:#000;stroke-width:0.85px" xml:space="preserve">3</text>
<text x="83.6" y="617.6" font-size="25.34" textLength="10.4" lengthAdjust="spacingAndGlyphs" style="stroke:#000;stroke-width:0.85px" xml:space="preserve">4</text>
<line x1="229.6" y1="674" x2="229.6" y2="702.4" stroke-width="1.9"/>
<line x1="246.4" y1="674" x2="246.4" y2="702.4" stroke-width="1.9"/>
<line x1="200.4" y1="695.4" x2="229.6" y2="695.4" stroke-width="1.9"/>
<line x1="246.4" y1="695.4" x2="275.6" y2="695.4" stroke-width="1.9"/>
<path d="M229.2 695.4 L216.7 692.5 L216.7 698.3 Z" fill="#000" stroke="none"/>
<path d="M246.8 695.4 L259.3 692.5 L259.3 698.3 Z" fill="#000" stroke="none"/>
<text x="168" y="704" font-size="25.95" textLength="28" lengthAdjust="spacingAndGlyphs" style="stroke:#000;stroke-width:0.85px" xml:space="preserve">1.3</text>
<line x1="237.6" y1="682" x2="237.6" y2="761.6" stroke-width="1.9"/>
<line x1="296.4" y1="682" x2="296.4" y2="727" stroke-width="1.9"/>
<line x1="209" y1="720" x2="237.6" y2="720" stroke-width="1.9"/>
<line x1="296.4" y1="720" x2="325.6" y2="720" stroke-width="1.9"/>
<path d="M237.2 720 L224.7 717.1 L224.7 722.9 Z" fill="#000" stroke="none"/>
<path d="M296.8 720 L309.3 717.1 L309.3 722.9 Z" fill="#000" stroke="none"/>
<text x="253" y="729" font-size="25.95" textLength="28.6" lengthAdjust="spacingAndGlyphs" style="stroke:#000;stroke-width:0.85px" xml:space="preserve">4.5</text>
<line x1="413" y1="682" x2="413" y2="761.6" stroke-width="1.9"/>
<line x1="237.6" y1="755" x2="302" y2="755" stroke-width="1.9"/>
<line x1="349.6" y1="755" x2="413" y2="755" stroke-width="1.9"/>
<path d="M238 755 L250.5 752.1 L250.5 757.9 Z" fill="#000" stroke="none"/>
<path d="M412.6 755 L400.1 752.1 L400.1 757.9 Z" fill="#000" stroke="none"/>
<text x="306" y="763" font-size="25.95" textLength="39" lengthAdjust="spacingAndGlyphs" style="stroke:#000;stroke-width:0.85px" xml:space="preserve">13.5</text>
<text x="348" y="790" font-size="27.48" textLength="22" lengthAdjust="spacingAndGlyphs" style="stroke:#000;stroke-width:0.85px" xml:space="preserve">*b</text>
<line x1="401" y1="640" x2="401" y2="721" stroke-width="1.9"/>
<line x1="425.6" y1="640" x2="425.6" y2="721" stroke-width="1.9"/>
<line x1="371.6" y1="713.6" x2="401" y2="713.6" stroke-width="1.9"/>
<line x1="425.6" y1="713.6" x2="455" y2="713.6" stroke-width="1.9"/>
<path d="M400.6 713.6 L388.1 710.7 L388.1 716.5 Z" fill="#000" stroke="none"/>
<path d="M426 713.6 L438.5 710.7 L438.5 716.5 Z" fill="#000" stroke="none"/>
<text x="459" y="722.4" font-size="25.65" textLength="28" lengthAdjust="spacingAndGlyphs" style="stroke:#000;stroke-width:0.85px" xml:space="preserve">1.9</text>
<line x1="465" y1="529" x2="510" y2="529" stroke-width="1.9"/>
<line x1="465.6" y1="626.4" x2="510" y2="626.4" stroke-width="1.9"/>
<line x1="418" y1="676.6" x2="510" y2="676.6" stroke-width="1.9"/>
<line x1="502.2" y1="529" x2="502.2" y2="558" stroke-width="1.9"/>
<line x1="502.2" y1="597" x2="502.2" y2="626.4" stroke-width="1.9"/>
<path d="M502.2 529.6 L499.3 542.1 L505.1 542.1 Z" fill="#000" stroke="none"/>
<path d="M502.2 625.8 L499.3 613.3 L505.1 613.3 Z" fill="#000" stroke="none"/>
<line x1="502.2" y1="676.6" x2="502.2" y2="705" stroke-width="1.9"/>
<path d="M502.2 677.2 L499.3 689.7 L505.1 689.7 Z" fill="#000" stroke="none"/>
<text x="511" y="590.5" font-size="26.72" textLength="28" lengthAdjust="spacingAndGlyphs" transform="rotate(-90 511 590.5)" style="stroke:#000;stroke-width:0.85px" xml:space="preserve">7.5</text>
<text x="511" y="665.6" font-size="26.72" textLength="28.6" lengthAdjust="spacingAndGlyphs" transform="rotate(-90 511 665.6)" style="stroke:#000;stroke-width:0.85px" xml:space="preserve">3.8</text>
<rect x="676" y="522.4" width="41.6" height="64.6" fill="none" stroke-width="2.1"/>
<line x1="676" y1="525.6" x2="717.6" y2="525.6" stroke-width="1.5"/>
<line x1="676" y1="529.2" x2="717.6" y2="529.2" stroke-width="1.5"/>
<line x1="676" y1="535.6" x2="717.6" y2="535.6" stroke-width="1.5"/>
<line x1="676" y1="476.4" x2="676" y2="516.4" stroke-width="1.9"/>
<line x1="717.6" y1="476.4" x2="717.6" y2="516.4" stroke-width="1.9"/>
<line x1="647" y1="483.6" x2="676" y2="483.6" stroke-width="1.9"/>
<line x1="717.6" y1="483.6" x2="746.4" y2="483.6" stroke-width="1.9"/>
<path d="M675.6 483.6 L663.1 480.7 L663.1 486.5 Z" fill="#000" stroke="none"/>
<path d="M718 483.6 L730.5 480.7 L730.5 486.5 Z" fill="#000" stroke="none"/>
<text x="614" y="492.4" font-size="25.65" textLength="28" lengthAdjust="spacingAndGlyphs" style="stroke:#000;stroke-width:0.85px" xml:space="preserve">3.2</text>
<path d="M650.5 690 L636 690 Q629.6 690 629.6 683.5 L629.6 593.5 Q629.6 587 636 587 L758 587 Q764.5 587 764.5 593.5 L764.5 683.5 Q764.5 690 758 690 L743.5 690" fill="none" stroke-width="2.1"/>
<rect x="637.2" y="593.6" width="119.6" height="90.4" fill="none" stroke-width="3.2"/>
<rect x="642.5" y="600" width="108" height="11.6" fill="#000" stroke="none"/>
<rect x="645" y="603.6" width="104" height="2" fill="#fff" stroke="none"/>
<line x1="646" y1="597.2" x2="672" y2="597.2" stroke-width="1.2" stroke="#555"/>
<line x1="720" y1="597.2" x2="748" y2="597.2" stroke-width="1.2" stroke="#555"/>
<rect x="672" y="594.8" width="5" height="5.2" fill="#000" stroke="none"/>
<rect x="715" y="594.8" width="5" height="5.2" fill="#000" stroke="none"/>
<line x1="643.5" y1="594" x2="643.5" y2="600" stroke-width="1.2"/>
<line x1="749.5" y1="594" x2="749.5" y2="600" stroke-width="1.2"/>
<path d="M650.2 641 L691.2 641 L691.2 659 L693.7 664.6 L647.7 664.6 L650.2 659 Z" fill="#000" stroke="none"/>
<path d="M654.2 660.2 L687.2 660.2 L689.7 663.6 L651.7 663.6 Z" fill="#fff" stroke="none"/>
<rect x="655.2" y="646.6" width="9" height="2.8" fill="#fff" stroke="none"/>
<rect x="677.2" y="646.6" width="9" height="2.8" fill="#fff" stroke="none"/>
<rect x="655.7" y="652.4" width="8.5" height="2.6" fill="#fff" stroke="none"/>
<rect x="677.2" y="652.4" width="8.5" height="2.6" fill="#fff" stroke="none"/>
<rect x="665.7" y="656.2" width="10" height="1.6" fill="#fff" stroke="none"/>
<rect x="658.2" y="651.6" width="1.6" height="4.4" fill="#000" stroke="none"/>
<rect x="681.6" y="651.6" width="1.6" height="4.4" fill="#000" stroke="none"/>
<path d="M702 641 L743.2 641 L743.2 659 L745.7 664.6 L699.5 664.6 L702 659 Z" fill="#000" stroke="none"/>
<path d="M706 660.2 L739.2 660.2 L741.7 663.6 L703.5 663.6 Z" fill="#fff" stroke="none"/>
<rect x="707" y="646.6" width="9" height="2.8" fill="#fff" stroke="none"/>
<rect x="729.2" y="646.6" width="9" height="2.8" fill="#fff" stroke="none"/>
<rect x="707.5" y="652.4" width="8.5" height="2.6" fill="#fff" stroke="none"/>
<rect x="729.2" y="652.4" width="8.5" height="2.6" fill="#fff" stroke="none"/>
<rect x="717.5" y="656.2" width="10.2" height="1.6" fill="#fff" stroke="none"/>
<rect x="710" y="651.6" width="1.6" height="4.4" fill="#000" stroke="none"/>
<rect x="733.6" y="651.6" width="1.6" height="4.4" fill="#000" stroke="none"/>
<line x1="639" y1="665" x2="755" y2="665" stroke-width="1.8"/>
<path d="M690.6 641 L690.6 658.5 Q690.6 662.2 694 662.2 L699.2 662.2 Q702.6 662.2 702.6 658.5 L702.6 641" fill="none" stroke-width="1.6"/>
<rect x="692" y="641" width="9.4" height="19.5" fill="#fff" stroke="none"/>
<path d="M662.4 684 L662.4 691 L682 691 Q686 691 686 687 L686 684" fill="none" stroke-width="1.8"/>
<path d="M706 684 L706 687 Q706 691 710 691 L731 691 L731 684" fill="none" stroke-width="1.8"/>
<line x1="651.1" y1="684" x2="651.1" y2="735" stroke-width="2"/>
<line x1="657.7" y1="684" x2="657.7" y2="735" stroke-width="2"/>
<line x1="654.5" y1="690" x2="654.5" y2="735" stroke-width="1.8" stroke-dasharray="16 2 4 2" stroke="#333"/>
<line x1="651.1" y1="735" x2="657.7" y2="735" stroke-width="1.2"/>
<line x1="736.1" y1="684" x2="736.1" y2="735" stroke-width="2"/>
<line x1="742.7" y1="684" x2="742.7" y2="735" stroke-width="2"/>
<line x1="739.5" y1="690" x2="739.5" y2="735" stroke-width="1.8" stroke-dasharray="16 2 4 2" stroke="#333"/>
<line x1="736.1" y1="735" x2="742.7" y2="735" stroke-width="1.2"/>
<line x1="696.6" y1="507" x2="696.6" y2="729" stroke-width="1.5" stroke-dasharray="80 3 4 3 46 3 5 3 40 3 6 3 22 3 8 3 40"/>
<line x1="723.6" y1="522.4" x2="824" y2="522.4" stroke-width="1.9"/>
<line x1="761" y1="587" x2="824" y2="587" stroke-width="1.9"/>
<line x1="748" y1="734.4" x2="823" y2="734.4" stroke-width="1.9"/>
<line x1="816" y1="522.4" x2="816" y2="546" stroke-width="1.9"/>
<line x1="816" y1="563" x2="816" y2="587" stroke-width="1.9"/>
<path d="M816 523 L813.1 535.5 L818.9 535.5 Z" fill="#000" stroke="none"/>
<path d="M816 586.4 L813.1 573.9 L818.9 573.9 Z" fill="#000" stroke="none"/>
<line x1="816" y1="587" x2="816" y2="636" stroke-width="1.9"/>
<line x1="816" y1="684" x2="816" y2="734.4" stroke-width="1.9"/>
<path d="M816 587.6 L813.1 600.1 L818.9 600.1 Z" fill="#000" stroke="none"/>
<path d="M816 733.8 L813.1 721.3 L818.9 721.3 Z" fill="#000" stroke="none"/>
<text x="825.5" y="559.6" font-size="28.24" textLength="10.6" lengthAdjust="spacingAndGlyphs" transform="rotate(-90 825.5 559.6)" style="stroke:#000;stroke-width:0.85px" xml:space="preserve">5</text>
<text x="825.5" y="681" font-size="28.24" textLength="42" lengthAdjust="spacingAndGlyphs" transform="rotate(-90 825.5 681)" style="stroke:#000;stroke-width:0.85px" xml:space="preserve">11.3</text>
<text x="840" y="567" font-size="27.48" textLength="22" lengthAdjust="spacingAndGlyphs" style="stroke:#000;stroke-width:0.85px" xml:space="preserve">*c</text>
<line x1="651" y1="736" x2="651" y2="759" stroke-width="1.9"/>
<line x1="657.8" y1="736" x2="657.8" y2="759" stroke-width="1.9"/>
<line x1="622" y1="751.6" x2="651" y2="751.6" stroke-width="1.9"/>
<line x1="657.8" y1="751.6" x2="687" y2="751.6" stroke-width="1.9"/>
<path d="M650.6 751.6 L638.1 748.7 L638.1 754.5 Z" fill="#000" stroke="none"/>
<path d="M658.2 751.6 L670.7 748.7 L670.7 754.5 Z" fill="#000" stroke="none"/>
<text x="537.6" y="760" font-size="25.65" textLength="25.9" lengthAdjust="spacingAndGlyphs" style="stroke:#000;stroke-width:0.85px" xml:space="preserve">0.5</text>
<text x="578" y="760" font-size="25.65" textLength="38.4" lengthAdjust="spacingAndGlyphs" style="stroke:#000;stroke-width:0.85px" xml:space="preserve">THK</text>
<line x1="654.4" y1="759" x2="654.4" y2="791" stroke-width="1.9"/>
<line x1="739.2" y1="745" x2="739.2" y2="791" stroke-width="1.9"/>
<line x1="654.4" y1="784" x2="678" y2="784" stroke-width="1.9"/>
<line x1="715" y1="784" x2="739.2" y2="784" stroke-width="1.9"/>
<path d="M654.8 784 L667.3 781.1 L667.3 786.9 Z" fill="#000" stroke="none"/>
<path d="M738.8 784 L726.3 781.1 L726.3 786.9 Z" fill="#000" stroke="none"/>
<text x="682" y="793" font-size="26.26" textLength="29" lengthAdjust="spacingAndGlyphs" style="stroke:#000;stroke-width:0.85px" xml:space="preserve">6.5</text>
<text x="747.6" y="793" font-size="29.01" textLength="22.4" lengthAdjust="spacingAndGlyphs" style="stroke:#000;stroke-width:0.85px" xml:space="preserve">*d</text>
<rect x="913.5" y="570.3" width="33" height="10.6" fill="none" stroke-width="2.2"/>
<rect x="913.5" y="654.7" width="33" height="10.6" fill="none" stroke-width="2.2"/>
<rect x="971.9" y="570.3" width="33" height="10.6" fill="none" stroke-width="2.2"/>
<rect x="971.9" y="654.7" width="33" height="10.6" fill="none" stroke-width="2.2"/>
<rect x="1030.5" y="570.3" width="33" height="10.6" fill="none" stroke-width="2.2"/>
<rect x="1030.5" y="654.7" width="33" height="10.6" fill="none" stroke-width="2.2"/>
<rect x="1088.9" y="570.3" width="33" height="10.6" fill="none" stroke-width="2.2"/>
<rect x="1088.9" y="654.7" width="33" height="10.6" fill="none" stroke-width="2.2"/>
<line x1="930" y1="497" x2="930" y2="556" stroke-width="1.8"/>
<line x1="930" y1="560" x2="930" y2="676" stroke-width="1.8" stroke-dasharray="38 3 5 3 24 3 4 3 30"/>
<line x1="988.4" y1="528" x2="988.4" y2="556" stroke-width="1.8"/>
<line x1="988.4" y1="560" x2="988.4" y2="676" stroke-width="1.8" stroke-dasharray="38 3 5 3 24 3 4 3 30"/>
<line x1="1047" y1="528" x2="1047" y2="556" stroke-width="1.8"/>
<line x1="1047" y1="560" x2="1047" y2="676" stroke-width="1.8" stroke-dasharray="38 3 5 3 24 3 4 3 30"/>
<line x1="1105.4" y1="497" x2="1105.4" y2="556" stroke-width="1.8"/>
<line x1="1105.4" y1="560" x2="1105.4" y2="676" stroke-width="1.8" stroke-dasharray="38 3 5 3 24 3 4 3 30"/>
<line x1="911" y1="575.6" x2="1123" y2="575.6" stroke-width="1.7" stroke-dasharray="36 4 3 4 11 4 3 4"/>
<line x1="911" y1="660" x2="1123" y2="660" stroke-width="1.7" stroke-dasharray="36 4 3 4 11 4 3 4"/>
<line x1="911" y1="617.6" x2="1123" y2="617.6" stroke-width="1.8" stroke-dasharray="26 3 4 3"/>
<line x1="930" y1="504.4" x2="994" y2="504.4" stroke-width="1.9"/>
<line x1="1041" y1="504.4" x2="1105.4" y2="504.4" stroke-width="1.9"/>
<path d="M930.4 504.4 L942.9 501.5 L942.9 507.3 Z" fill="#000" stroke="none"/>
<path d="M1105 504.4 L1092.5 501.5 L1092.5 507.3 Z" fill="#000" stroke="none"/>
<text x="998" y="513" font-size="25.95" textLength="39" lengthAdjust="spacingAndGlyphs" style="stroke:#000;stroke-width:0.85px" xml:space="preserve">13.5</text>
<line x1="959" y1="536.4" x2="988.4" y2="536.4" stroke-width="1.9"/>
<line x1="1047" y1="536.4" x2="1076.4" y2="536.4" stroke-width="1.9"/>
<path d="M988 536.4 L975.5 533.5 L975.5 539.3 Z" fill="#000" stroke="none"/>
<path d="M1047.4 536.4 L1059.9 533.5 L1059.9 539.3 Z" fill="#000" stroke="none"/>
<text x="1003.6" y="545" font-size="25.95" textLength="28.8" lengthAdjust="spacingAndGlyphs" style="stroke:#000;stroke-width:0.85px" xml:space="preserve">4.5</text>
<line x1="1128" y1="575.6" x2="1162.4" y2="575.6" stroke-width="1.9"/>
<line x1="1128" y1="660" x2="1162.4" y2="660" stroke-width="1.9"/>
<line x1="1155" y1="575.6" x2="1155" y2="597" stroke-width="1.9"/>
<line x1="1155" y1="638" x2="1155" y2="660" stroke-width="1.9"/>
<path d="M1155 576.2 L1152.1 588.7 L1157.9 588.7 Z" fill="#000" stroke="none"/>
<path d="M1155 659.4 L1152.1 646.9 L1157.9 646.9 Z" fill="#000" stroke="none"/>
<text x="1165" y="632.4" font-size="27.48" textLength="29.4" lengthAdjust="spacingAndGlyphs" transform="rotate(-90 1165 632.4)" style="stroke:#000;stroke-width:0.85px" xml:space="preserve">6.5</text>
<text x="952" y="733.6" font-size="25.34" textLength="136" lengthAdjust="spacingAndGlyphs" style="stroke:#000;stroke-width:0.85px" xml:space="preserve">P.C.B  LAYOUT</text>
<line x1="949.6" y1="737.2" x2="1088" y2="737.2" stroke-width="1.6"/>
<text x="952.4" y="757" font-size="25.34" textLength="132.6" lengthAdjust="spacingAndGlyphs" style="stroke:#000;stroke-width:0.85px" xml:space="preserve">BOTTOM  VIEW</text>
<text x="1193" y="557.6" font-size="20" font-weight="normal" font-family="Liberation Serif, Noto Serif CJK SC, serif" textLength="222" lengthAdjust="spacing" style="stroke:#000;stroke-width:0.3px">大电流拨动开关技术参数</text>
<circle cx="1418.5" cy="550.2" r="1.4" fill="#000" stroke="none"/>
<circle cx="1418.5" cy="556.2" r="1.4" fill="#000" stroke="none"/>
<text x="1193" y="587" font-size="18.31" font-family="Liberation Sans, sans-serif" textLength="13.5" lengthAdjust="spacingAndGlyphs" xml:space="preserve">1.</text>
<text x="1193" y="616.4" font-size="18.31" font-family="Liberation Sans, sans-serif" textLength="13.5" lengthAdjust="spacingAndGlyphs" xml:space="preserve">2.</text>
<text x="1193" y="646.6" font-size="18.31" font-family="Liberation Sans, sans-serif" textLength="13.5" lengthAdjust="spacingAndGlyphs" xml:space="preserve">3.</text>
<text x="1193" y="676.6" font-size="18.31" font-family="Liberation Sans, sans-serif" textLength="13.5" lengthAdjust="spacingAndGlyphs" xml:space="preserve">4.</text>
<text x="1193" y="707" font-size="18.31" font-family="Liberation Sans, sans-serif" textLength="13.5" lengthAdjust="spacingAndGlyphs" xml:space="preserve">5.</text>
<text x="1193" y="736.4" font-size="18.31" font-family="Liberation Sans, sans-serif" textLength="13.5" lengthAdjust="spacingAndGlyphs" xml:space="preserve">6.</text>
<text x="1193" y="766.4" font-size="18.31" font-family="Liberation Sans, sans-serif" textLength="13.5" lengthAdjust="spacingAndGlyphs" xml:space="preserve">7.</text>
<text x="1193" y="796.4" font-size="18.31" font-family="Liberation Sans, sans-serif" textLength="13.5" lengthAdjust="spacingAndGlyphs" xml:space="preserve">8.</text>
<text x="1193" y="826.4" font-size="18.31" font-family="Liberation Sans, sans-serif" textLength="13.5" lengthAdjust="spacingAndGlyphs" xml:space="preserve">9.</text>
<text x="1219" y="588.6" font-size="20" font-weight="normal" font-family="Liberation Serif, Noto Serif CJK SC, serif" textLength="80.6" lengthAdjust="spacing" style="stroke:#000;stroke-width:0.3px">额定负荷</text>
<rect x="1300.5" y="577.6" width="3.4" height="3.2" fill="#000" stroke="none" rx="0.8"/>
<rect x="1300.5" y="584.4" width="3.4" height="3.2" fill="#000" stroke="none" rx="0.8"/>
<text x="1309" y="587" font-size="18.31" font-family="Liberation Sans, sans-serif" textLength="116.8" lengthAdjust="spacingAndGlyphs" xml:space="preserve">AC 125V 250V</text>
<text x="1446" y="587" font-size="18.31" font-family="Liberation Sans, sans-serif" textLength="22" lengthAdjust="spacingAndGlyphs" xml:space="preserve">3A</text>
<text x="1488.3" y="587" font-size="18.31" font-family="Liberation Sans, sans-serif" textLength="22" lengthAdjust="spacingAndGlyphs" xml:space="preserve">6A</text>
<text x="1531.3" y="587" font-size="18.31" font-family="Liberation Sans, sans-serif" textLength="32.3" lengthAdjust="spacingAndGlyphs" xml:space="preserve">10A</text>
<text x="1229" y="617.6" font-size="20" font-weight="normal" font-family="Liberation Serif, Noto Serif CJK SC, serif" textLength="80.6" lengthAdjust="spacing" style="stroke:#000;stroke-width:0.3px">接触阻抗</text>
<rect x="1310.5" y="607" width="3.4" height="3.2" fill="#000" stroke="none" rx="0.8"/>
<rect x="1310.5" y="613.8" width="3.4" height="3.2" fill="#000" stroke="none" rx="0.8"/>
<text x="1323.55" y="616.6" font-size="22.1" font-weight="normal" font-family="Liberation Serif, Noto Serif CJK SC, serif" style="stroke:#000;stroke-width:0.25px">≤</text>
<text x="1345" y="616.4" font-size="18.31" font-family="Liberation Sans, sans-serif" textLength="36" lengthAdjust="spacingAndGlyphs" xml:space="preserve">50m</text>
<text x="1385.5" y="615.8" font-size="16.7" font-weight="normal" font-family="Liberation Serif, Noto Serif CJK SC, serif" style="stroke:#000;stroke-width:0.25px">Ω</text>
<text x="1219" y="648.2" font-size="20" font-weight="normal" font-family="Liberation Serif, Noto Serif CJK SC, serif" textLength="80.6" lengthAdjust="spacing" style="stroke:#000;stroke-width:0.3px">绝缘阻抗</text>
<rect x="1300.5" y="637.2" width="3.4" height="3.2" fill="#000" stroke="none" rx="0.8"/>
<rect x="1300.5" y="644" width="3.4" height="3.2" fill="#000" stroke="none" rx="0.8"/>
<text x="1314.33" y="647.6" font-size="22.1" font-weight="normal" font-family="Liberation Serif, Noto Serif CJK SC, serif" style="stroke:#000;stroke-width:0.25px">≥</text>
<text x="1335" y="646.6" font-size="18.31" font-family="Liberation Sans, sans-serif" textLength="46" lengthAdjust="spacingAndGlyphs" xml:space="preserve">100m</text>
<text x="1385.5" y="645.8" font-size="16.7" font-weight="normal" font-family="Liberation Serif, Noto Serif CJK SC, serif" style="stroke:#000;stroke-width:0.25px">Ω</text>
<text x="1413" y="646.6" font-size="18.31" font-family="Liberation Sans, sans-serif" textLength="65" lengthAdjust="spacingAndGlyphs" xml:space="preserve">DC500V</text>
<text x="1229" y="677.6" font-size="20" font-weight="normal" font-family="Liberation Serif, Noto Serif CJK SC, serif" textLength="80.6" lengthAdjust="spacing" style="stroke:#000;stroke-width:0.3px">耐焊温度</text>
<rect x="1310.5" y="667.2" width="3.4" height="3.2" fill="#000" stroke="none" rx="0.8"/>
<rect x="1310.5" y="674" width="3.4" height="3.2" fill="#000" stroke="none" rx="0.8"/>
<text x="1319" y="676.6" font-size="18.31" font-family="Liberation Sans, sans-serif" textLength="29" lengthAdjust="spacingAndGlyphs" xml:space="preserve">250</text>
<text x="1349.17" y="677.8" font-size="22.7" font-weight="normal" font-family="Liberation Serif, Noto Serif CJK SC, serif" textLength="22.7" lengthAdjust="spacingAndGlyphs" style="stroke:#000;stroke-width:0.25px">±</text>
<text x="1370" y="676.6" font-size="18.31" font-family="Liberation Sans, sans-serif" textLength="10" lengthAdjust="spacingAndGlyphs" xml:space="preserve">5</text>
<text x="1383.13" y="679.56" font-size="22.2" font-weight="normal" font-family="Liberation Serif, Noto Serif CJK SC, serif" style="stroke:#000;stroke-width:0.25px">°</text>
<text x="1400" y="676.6" font-size="18.31" font-family="Liberation Sans, sans-serif" textLength="18" lengthAdjust="spacingAndGlyphs" xml:space="preserve">5s</text>
<text x="1219" y="708.6" font-size="20" font-weight="normal" font-family="Liberation Serif, Noto Serif CJK SC, serif" textLength="80.6" lengthAdjust="spacing" style="stroke:#000;stroke-width:0.3px">使用寿命</text>
<rect x="1300.5" y="697.6" width="3.4" height="3.2" fill="#000" stroke="none" rx="0.8"/>
<rect x="1300.5" y="704.4" width="3.4" height="3.2" fill="#000" stroke="none" rx="0.8"/>
<text x="1310" y="707" font-size="18.31" font-family="Liberation Sans, sans-serif" textLength="109" lengthAdjust="spacingAndGlyphs" xml:space="preserve">10,000 cycles</text>
<text x="1229" y="737.6" font-size="20" font-weight="normal" font-family="Liberation Serif, Noto Serif CJK SC, serif" textLength="80.6" lengthAdjust="spacing" style="stroke:#000;stroke-width:0.3px">使用温度</text>
<rect x="1310.5" y="727" width="3.4" height="3.2" fill="#000" stroke="none" rx="0.8"/>
<rect x="1310.5" y="733.8" width="3.4" height="3.2" fill="#000" stroke="none" rx="0.8"/>
<text x="1319" y="736.4" font-size="18.31" font-family="Liberation Sans, sans-serif" textLength="26" lengthAdjust="spacingAndGlyphs" xml:space="preserve">-25</text>
<text x="1355.64" y="736.69" font-size="19.1" font-weight="normal" font-family="Liberation Serif, Noto Serif CJK SC, serif" style="stroke:#000;stroke-width:0.25px">℃</text>
<text x="1386" y="736.4" font-size="18.31" font-family="Liberation Sans, sans-serif" textLength="42" lengthAdjust="spacingAndGlyphs" xml:space="preserve">to 80</text>
<text x="1438.56" y="736.68" font-size="20.3" font-weight="normal" font-family="Liberation Serif, Noto Serif CJK SC, serif" style="stroke:#000;stroke-width:0.25px">℃</text>
<text x="1219" y="768.3" font-size="20" font-weight="normal" font-family="Liberation Serif, Noto Serif CJK SC, serif" textLength="80.6" lengthAdjust="spacing" style="stroke:#000;stroke-width:0.3px">使用湿度</text>
<rect x="1300.5" y="757" width="3.4" height="3.2" fill="#000" stroke="none" rx="0.8"/>
<rect x="1300.5" y="763.8" width="3.4" height="3.2" fill="#000" stroke="none" rx="0.8"/>
<text x="1313.55" y="767.2" font-size="22.1" font-weight="normal" font-family="Liberation Serif, Noto Serif CJK SC, serif" style="stroke:#000;stroke-width:0.25px">≤</text>
<text x="1335" y="766.4" font-size="18.31" font-family="Liberation Sans, sans-serif" textLength="62.6" lengthAdjust="spacingAndGlyphs" xml:space="preserve">85% RH</text>
<text x="1229" y="797.6" font-size="20" font-weight="normal" font-family="Liberation Serif, Noto Serif CJK SC, serif" textLength="61" lengthAdjust="spacing" style="stroke:#000;stroke-width:0.3px">操作力</text>
<rect x="1299" y="787" width="3.4" height="3.2" fill="#000" stroke="none" rx="0.8"/>
<rect x="1299" y="793.8" width="3.4" height="3.2" fill="#000" stroke="none" rx="0.8"/>
<text x="1309.6" y="796.4" font-size="18.31" font-family="Liberation Sans, sans-serif" textLength="45.4" lengthAdjust="spacingAndGlyphs" xml:space="preserve">160gf</text>
<text x="1375.6" y="796.4" font-size="18.31" font-family="Liberation Sans, sans-serif" textLength="47" lengthAdjust="spacingAndGlyphs" xml:space="preserve">256gf</text>
<text x="1442.6" y="796.4" font-size="18.31" font-family="Liberation Sans, sans-serif" textLength="46.4" lengthAdjust="spacingAndGlyphs" xml:space="preserve">300gf</text>
<text x="1500" y="797.22" font-size="19" font-weight="normal" font-family="Liberation Serif, Noto Serif CJK SC, serif" textLength="58.2" lengthAdjust="spacing" style="stroke:#000;stroke-width:0.3px">可定制</text>
<text x="1219" y="827.6" font-size="20" font-weight="normal" font-family="Liberation Serif, Noto Serif CJK SC, serif" textLength="80.6" lengthAdjust="spacing" style="stroke:#000;stroke-width:0.3px">手柄长度</text>
<rect x="1299.5" y="817" width="3.4" height="3.2" fill="#000" stroke="none" rx="0.8"/>
<rect x="1299.5" y="823.8" width="3.4" height="3.2" fill="#000" stroke="none" rx="0.8"/>
<text x="1304" y="826.4" font-size="18.31" font-family="Liberation Sans, sans-serif" textLength="101" lengthAdjust="spacingAndGlyphs" xml:space="preserve">2mm-10mm</text>
<text x="1419" y="827.22" font-size="19" font-weight="normal" font-family="Liberation Serif, Noto Serif CJK SC, serif" textLength="57.8" lengthAdjust="spacing" style="stroke:#000;stroke-width:0.3px">可定制</text>
<text x="84" y="823.6" font-size="20" font-weight="bold" font-family="Liberation Serif, Noto Serif CJK SC, serif" textLength="16" lengthAdjust="spacingAndGlyphs">注</text>
<circle cx="101.6" cy="814.6" r="1.3" fill="#000" stroke="none"/>
<circle cx="101.6" cy="822" r="1.3" fill="#000" stroke="none"/>
<text x="109" y="830" font-size="22.9" textLength="21" lengthAdjust="spacingAndGlyphs" style="stroke:#000;stroke-width:0.4px" xml:space="preserve">"*"</text>
<text x="131" y="823.6" font-size="20" font-weight="bold" font-family="Liberation Serif, Noto Serif CJK SC, serif" textLength="98.5" lengthAdjust="spacingAndGlyphs">表示关键尺寸</text>
<text x="232" y="823" font-size="20.61" font-weight="normal" textLength="11" lengthAdjust="spacingAndGlyphs" style="stroke:#000;stroke-width:0.5px" xml:space="preserve">(6</text>
<text x="244" y="823.6" font-size="20" font-weight="bold" font-family="Liberation Serif, Noto Serif CJK SC, serif" textLength="16" lengthAdjust="spacingAndGlyphs">个</text>
<text x="261" y="823" font-size="20.61" font-weight="normal" textLength="4" lengthAdjust="spacingAndGlyphs" style="stroke:#000;stroke-width:0.5px" xml:space="preserve">)</text>
</g></g></svg>
</body></html>
